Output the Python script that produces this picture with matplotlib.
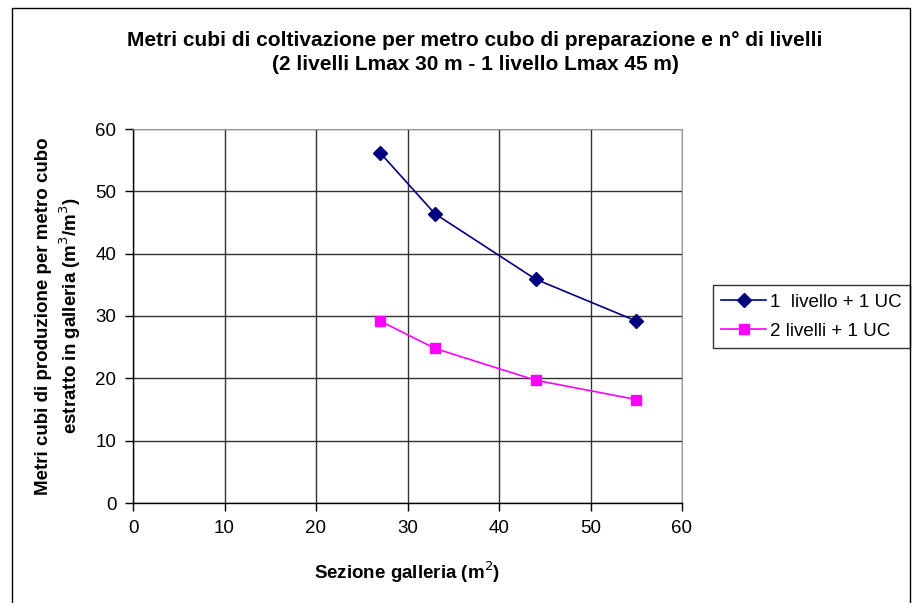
import matplotlib
matplotlib.use("Agg")
import matplotlib.pyplot as plt
from matplotlib.lines import Line2D

plt.rcParams['font.family'] = ['Liberation Sans', 'DejaVu Sans']

# Data
sezione = [27, 33, 44, 55]
un_livello = [56.2, 46.4, 35.9, 29.2]
due_livelli = [29.2, 24.8, 19.7, 16.6]
series_labels = ["1  livello + 1 UC", "2 livelli + 1 UC"]
x_ticks = [0, 10, 20, 30, 40, 50, 60]
y_ticks = [0, 10, 20, 30, 40, 50, 60]

W, H = 913, 603
fig = plt.figure(figsize=(W / 100, H / 100), dpi=100)
fig.patch.set_facecolor('white')

# chart frame
frame = Line2D([12 / W, 12 / W, 910 / W, 910 / W], [0, 1 - 8 / H, 1 - 8 / H, 0],
               transform=fig.transFigure, color='black', lw=1.0)
fig.add_artist(frame)

left, right, top, bottom = 133, 682, 129, 503
ax = fig.add_axes([left / W, 1 - bottom / H, (right - left) / W, (bottom - top) / H])

ax.plot(sezione, un_livello, color='#000080', lw=1.2, marker='D', markersize=7,
        markerfacecolor='#000080', markeredgecolor='#000080', label=series_labels[0], zorder=3)
ax.plot(sezione, due_livelli, color='#FF00FF', lw=1.2, marker='s', markersize=7.5,
        markerfacecolor='#FF00FF', markeredgecolor='#FF00FF', label=series_labels[1], zorder=3)

ax.set_xlim(0, 60)
ax.set_ylim(0, 60)
ax.set_xticks(x_ticks)
ax.set_yticks(y_ticks)
ax.grid(True, color='#333333', lw=1.0)
ax.set_axisbelow(True)
for s in ['top', 'right']:
    ax.spines[s].set_color('#999999')
for s in ['left', 'bottom']:
    ax.spines[s].set_color('black')
    ax.spines[s].set_linewidth(1.0)
ax.tick_params(direction='out', length=6, width=1, labelsize=13.5, colors='black')
ax.tick_params(axis='x', pad=6)
ax.tick_params(axis='y', pad=6)

fig.text(407 / W, 1 - 572 / H, "Sezione galleria (m$^2$)",
         ha='center', va='center', fontsize=13.5, fontweight='bold')
fig.text(59 / W, 1 - 316 / H,
         "Metri cubi di produzione per metro cubo\nestratto in galleria (m$^3$/m$^3$)",
         ha='center', va='center', rotation=90, fontsize=13.5, fontweight='bold',
         linespacing=1.25, multialignment='center')

fig.text(475 / W, 1 - 40 / H,
         "Metri cubi di coltivazione per metro cubo di preparazione e n° di livelli",
         ha='center', va='center', fontsize=15, fontweight='bold')
fig.text(475 / W, 1 - 64 / H, "(2 livelli Lmax 30 m - 1 livello Lmax 45 m)",
         ha='center', va='center', fontsize=15, fontweight='bold')

leg = ax.legend(loc='upper left', bbox_to_anchor=(713 / W, 1 - 285 / H),
                bbox_transform=fig.transFigure, frameon=True, fancybox=False,
                edgecolor='black', fontsize=13.5, handlelength=2.4, borderpad=0.45,
                labelspacing=0.65, handletextpad=0.2, borderaxespad=0)
leg.get_frame().set_linewidth(1.0)

fig.savefig("out.png", dpi=100)
